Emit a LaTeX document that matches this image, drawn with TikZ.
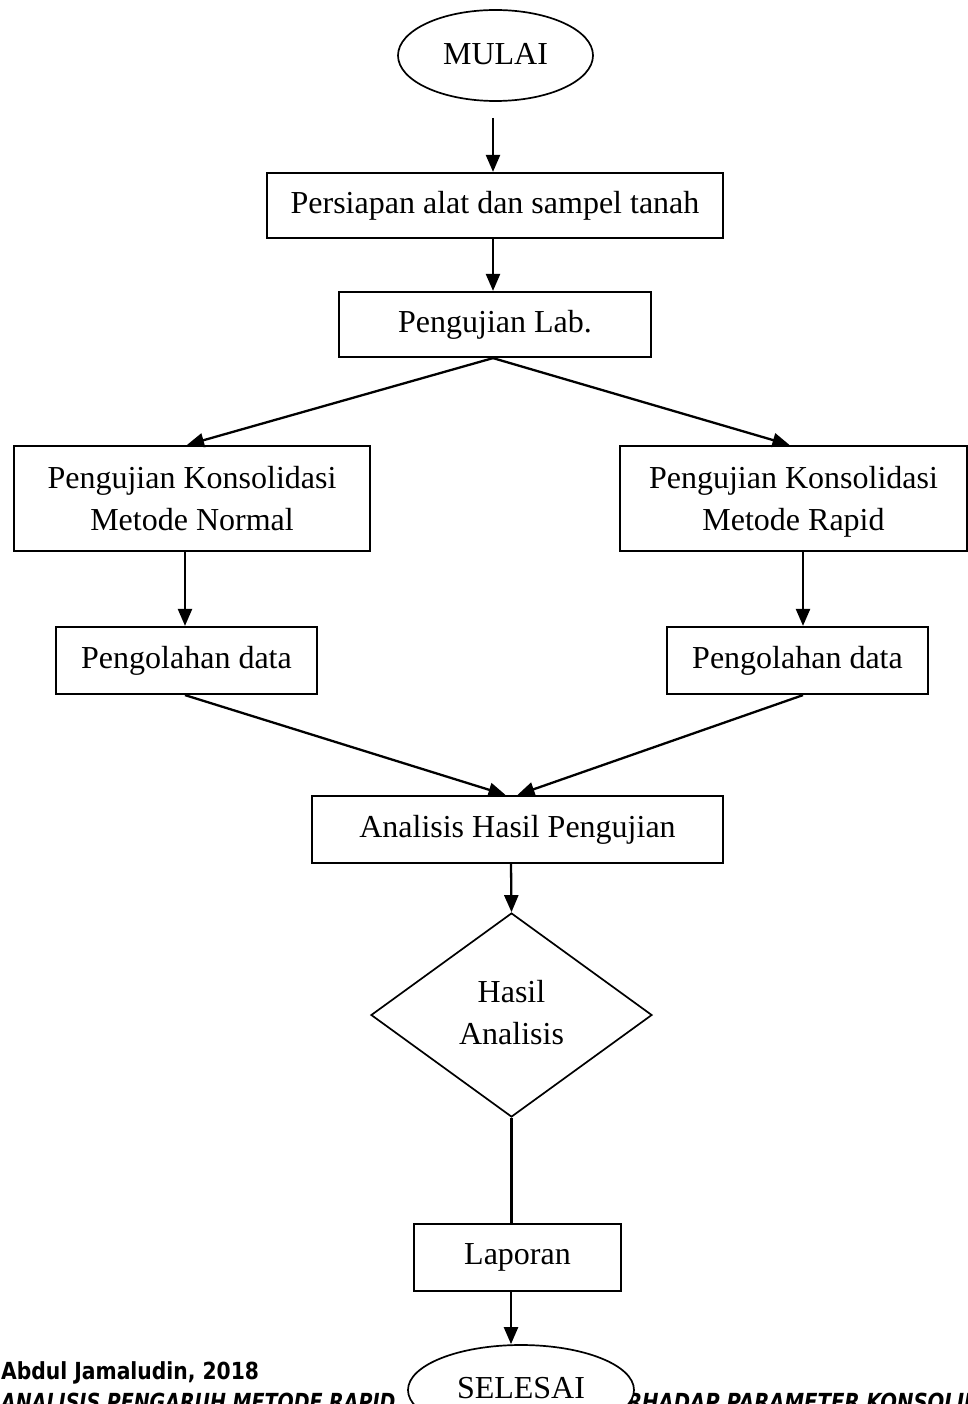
\documentclass[tikz,border=0pt]{standalone}
\usepackage{fontspec}
\setmainfont{Liberation Serif}
\newfontfamily\footfont{DejaVu Sans Condensed}
\usetikzlibrary{shapes.geometric,arrows.meta}
\newcommand\mainfs{\fontsize{32}{42}\selectfont}
\newcommand\footfs{\footfont\bfseries\fontsize{23.5}{23.5}\selectfont}
\begin{document}
\begin{tikzpicture}[x=1pt,y=-1pt,
  box/.style={draw,rectangle,line width=2.2pt,inner sep=0pt,align=center,font=\mainfs},
  term/.style={draw,ellipse,line width=1.7pt,inner sep=0pt,fill=white,font=\mainfs},
  decide/.style={draw,diamond,line width=1.7pt,inner sep=0pt,align=center,font=\mainfs},
  arr/.style={line width=2.3pt,-{Triangle[length=17pt,width=14pt]}},
  plain/.style={line width=2.3pt},
  foot/.style={inner sep=0pt,font=\footfs}]
\clip (0,0) rectangle (968,1404);
\fill[white] (0,0) rectangle (968,1404);
% nodes
\node[term,minimum width=195pt,minimum height=91pt] (mulai) at (495.5,55.5) {\raisebox{3.5pt}{MULAI}};
\node[box,minimum width=456pt,minimum height=65pt] (persiapan) at (495,205.5) {Persiapan alat dan sampel tanah};
\node[box,minimum width=312pt,minimum height=65pt] (lab) at (495,324.5) {Pengujian Lab.};
\node[box,minimum width=356pt,minimum height=105pt] (normal) at (192,498.5) {Pengujian Konsolidasi\\Metode Normal};
\node[box,minimum width=347pt,minimum height=105pt] (rapid) at (793.5,498.5) {Pengujian Konsolidasi\\Metode Ra\smash{p}id};
\node[box,minimum width=261pt,minimum height=67pt] (olah1) at (186.5,660.5) {Pengolahan data};
\node[box,minimum width=261pt,minimum height=67pt] (olah2) at (797.5,660.5) {Pengolahan data};
\node[box,minimum width=411pt,minimum height=67pt] (analisis) at (517.5,829.5) {Analisis Hasil Pengujian};
\node[decide,minimum width=281pt,minimum height=204pt] (hasil) at (511.5,1015) {\raisebox{2.5pt}{\begin{tabular}{@{}c@{}}Hasil\\Analisis\end{tabular}}};
\node[box,minimum width=207pt,minimum height=67pt] (laporan) at (517.5,1257.5) {Laporan};
% footer
\node[foot,anchor=base west] (f1) at (1,1379) {\scalebox{0.96}[1]{Abdul Jamaludin, 2018}};
\node[foot,anchor=base west] (f2a) at (1,1410) {\scalebox{0.9}[1]{\itshape ANALISIS PENGARUH METODE RAPID}};
\node[foot,anchor=base west] (f2b) at (600,1410) {\scalebox{0.93}[1]{\itshape TERHADAP PARAMETER KONSOLIDASI}};
\node[term,minimum width=226pt,minimum height=90pt] (selesai) at (521,1390) {\raisebox{4pt}{SELESAI}};
% connectors
\coordinate (s0) at (493,118);
\draw[arr] (s0) -- (s0 |- persiapan.north);
\draw[arr] ([xshift=-2pt]persiapan.south) -- ([xshift=-2pt]lab.north);
\draw[arr] ([xshift=-2pt]lab.south) -- ([xshift=-5pt]normal.north);
\draw[arr] ([xshift=-2pt]lab.south) -- ([xshift=-4pt]rapid.north);
\draw[arr] ([xshift=-7pt]normal.south) -- ([xshift=-1.5pt]olah1.north);
\draw[arr] ([xshift=9.5pt]rapid.south) -- ([xshift=5.5pt]olah2.north);
\draw[arr] ([xshift=-1.5pt]olah1.south) -- ([xshift=-12pt]analisis.north);
\draw[arr] ([xshift=5.5pt]olah2.south) -- ([xshift=0pt]analisis.north);
\draw[arr] ([xshift=-6.5pt]analisis.south) -- (hasil.north);
\draw[plain] (hasil.south) -- (hasil.south |- laporan.north);
\draw[arr] ([xshift=-6.5pt]laporan.south) -- ([xshift=-6.5pt]laporan.south |- selesai.north);
\end{tikzpicture}
\end{document}
